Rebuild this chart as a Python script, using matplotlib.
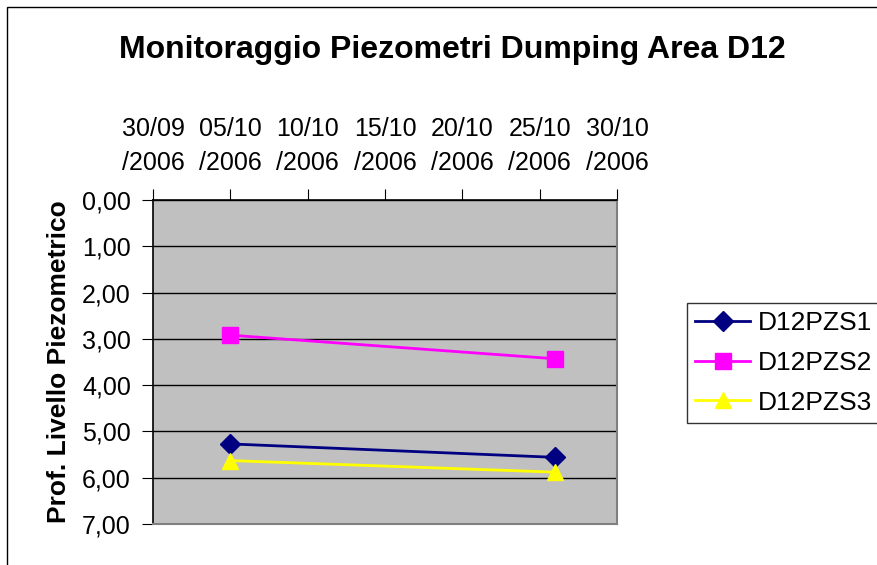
import datetime as dt
import matplotlib
matplotlib.use("Agg")
import matplotlib.pyplot as plt
import matplotlib.dates as mdates
from matplotlib.patches import Rectangle
from matplotlib.ticker import FuncFormatter, MultipleLocator

plt.rcParams['font.family'] = ['Liberation Sans', 'DejaVu Sans']

# dati
date_misure = [dt.datetime(2006, 10, 5), dt.datetime(2006, 10, 26)]
serie_nomi = ["D12PZS1", "D12PZS2", "D12PZS3"]
d12pzs1 = [5.27, 5.56]
d12pzs2 = [2.92, 3.43]
d12pzs3 = [5.63, 5.88]
colori = ["#000080", "#FF00FF", "#FFFF00"]
marker = ["D", "s", "^"]

fig = plt.figure(figsize=(8.78, 5.65), dpi=100)
fig.patches.append(Rectangle((7/878, -0.1), 1.2, 1 - 7/565 + 0.1, transform=fig.transFigure,
                             fill=False, edgecolor="black", linewidth=1))

ax = fig.add_axes([153/878, 1 - 524/565, (617-153)/878, (524-200)/565])
ax.set_facecolor("#C0C0C0")

for vals, nome, c, m in zip([d12pzs1, d12pzs2, d12pzs3], serie_nomi, colori, marker):
    ms = 10 if m == "D" else 12
    ax.plot(date_misure, vals, color=c, marker=m, markersize=ms, linewidth=2,
            label=nome, zorder=3, clip_on=False)

ax.set_xlim(dt.datetime(2006, 9, 30), dt.datetime(2006, 10, 30))
ax.set_ylim(7, 0)
ax.yaxis.set_major_locator(MultipleLocator(1))
ax.yaxis.set_major_formatter(FuncFormatter(lambda v, p: ("%.2f" % v).replace(".", ",")))
ax.grid(axis="y", color="black", linewidth=1)
ax.set_axisbelow(True)

ax.xaxis.tick_top()
ax.set_xticks([mdates.date2num(dt.datetime(2006, 9, 30)) + 5 * i for i in range(7)])
ax.xaxis.set_major_formatter(FuncFormatter(
    lambda v, p: mdates.num2date(v).strftime("%d/%m") + "\n/" + mdates.num2date(v).strftime("%Y")))
ax.tick_params(axis="x", labelsize=18, direction="out", length=8, pad=10, colors="black")
ax.tick_params(axis="y", labelsize=18, direction="out", length=8, pad=8)
for t in ax.get_xticklabels():
    t.set_linespacing(1.5)

for s in ["left", "top"]:
    ax.spines[s].set_color("black")
    ax.spines[s].set_linewidth(1.2)
for s in ["right", "bottom"]:
    ax.spines[s].set_color("#808080")
    ax.spines[s].set_linewidth(1.5)

ax.set_ylabel("Prof. Livello Piezometrico", fontsize=19, fontweight="bold", labelpad=8)

fig.text(452/878, 1 - 50/565, "Monitoraggio Piezometri Dumping Area D12",
         ha="center", va="center", fontsize=23, fontweight="bold")

leg = ax.legend(loc="upper left", bbox_to_anchor=(687/878, 1 - 303/565),
                bbox_transform=fig.transFigure, fontsize=19, frameon=True, fancybox=False,
                edgecolor="black", handlelength=2.1, borderpad=0.3, labelspacing=0.6,
                handletextpad=0.27, borderaxespad=0)
leg.get_frame().set_linewidth(1)

fig.savefig("out.png", dpi=100)
